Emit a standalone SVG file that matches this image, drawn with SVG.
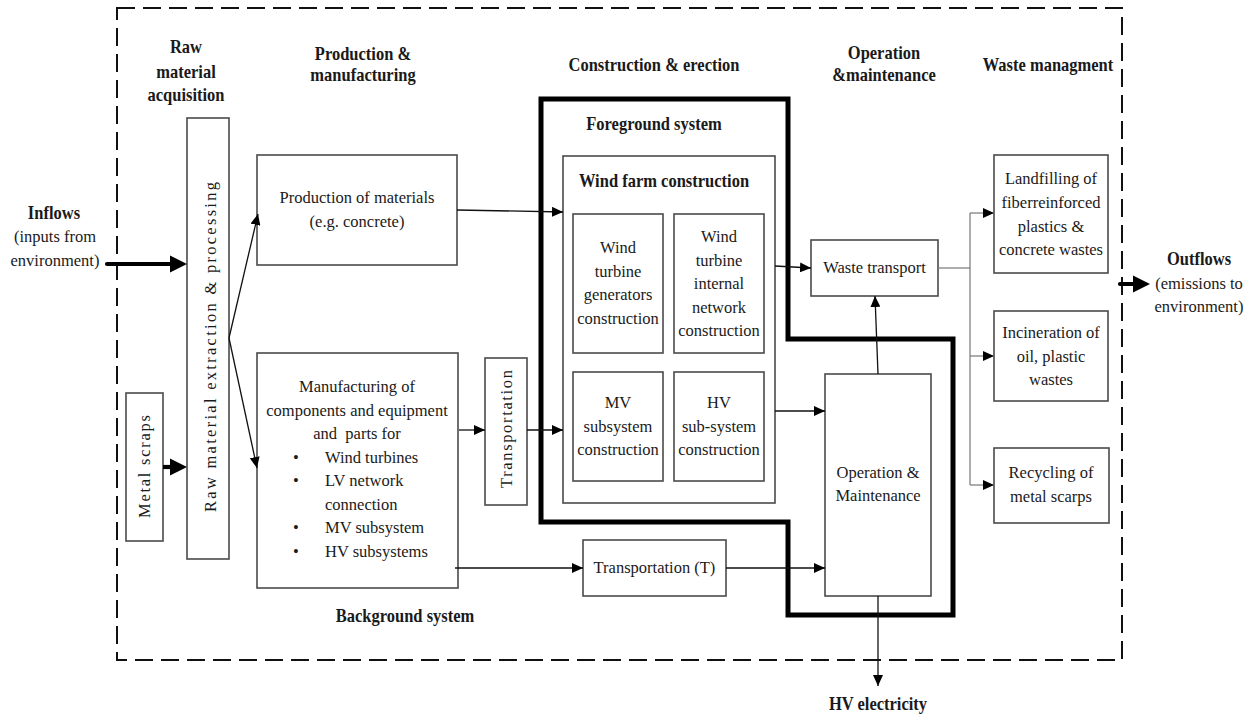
<svg xmlns="http://www.w3.org/2000/svg" width="1256" height="717" viewBox="0 0 1256 717">
<style>
.t{font-family:"Liberation Serif","Times New Roman",serif;font-size:16.5px;fill:#1a1a1a;text-anchor:middle}
.h{font-family:"Liberation Serif","Times New Roman",serif;font-size:16.5px;font-weight:bold;fill:#1a1a1a;text-anchor:middle}
.l{text-anchor:start}
.box{fill:#fff;stroke:#4a4a4a;stroke-width:1.6}
.c{fill:none;stroke:#111;stroke-width:1.3}
.cg{fill:none;stroke:#777;stroke-width:1.2}
.thick{fill:none;stroke:#000;stroke-width:4.2}
</style>
<defs>
<marker id="a" markerUnits="userSpaceOnUse" markerWidth="12" markerHeight="10" viewBox="0 0 12 10" refX="11" refY="5" orient="auto">
<path d="M0,0 L11,5 L0,10 Z" fill="#000"/>
</marker>
<marker id="b" markerUnits="userSpaceOnUse" markerWidth="18" markerHeight="18" viewBox="0 -9 18 18" refX="0" refY="0" orient="auto">
<path d="M0,-8.5 L17,0 L0,8.5 Z" fill="#000"/>
</marker>
</defs>
<rect width="1256" height="717" fill="#fff"/>

<g id="boundary">
<rect x="117" y="8" width="1005" height="652" fill="none" stroke="#111" stroke-width="2" stroke-dasharray="18 8"/>
</g>

<g id="headings">
<text class="h" transform="translate(186,53) scale(1,1.2)">Raw</text>
<text class="h" transform="translate(186,78) scale(1,1.2)">material</text>
<text class="h" transform="translate(186,101) scale(1,1.2)">acquisition</text>
<text class="h" transform="translate(363,60) scale(1,1.2)">Production &amp;</text>
<text class="h" transform="translate(363,81) scale(1,1.2)">manufacturing</text>
<text class="h" transform="translate(654,71) scale(1,1.2)">Construction &amp; erection</text>
<text class="h" transform="translate(884,59) scale(1,1.2)">Operation</text>
<text class="h" transform="translate(884,81) scale(1,1.2)">&amp;maintenance</text>
<text class="h" transform="translate(1048,71) scale(1,1.2)">Waste managment</text>
</g>

<g id="foreground">
<path d="M541,99 L788,99 L788,339 L953,339 L953,615 L788,615 L788,522 L541,522 Z" fill="none" stroke="#000" stroke-width="5"/>
<text class="h" transform="translate(654,130) scale(1,1.2)">Foreground system</text>
</g>

<g id="inflows">
<text class="h" transform="translate(54,219) scale(1,1.2)">Inflows</text>
<text class="t" x="55" y="242">(inputs from</text>
<text class="t" x="55" y="266">environment)</text>
</g>

<g id="outflows">
<text class="h" transform="translate(1199,265) scale(1,1.2)">Outflows</text>
<text class="t" x="1199" y="289">(emissions to</text>
<text class="t" x="1199" y="312">environment)</text>
</g>

<g id="raw-extraction">
<rect class="box" x="187" y="118" width="42" height="441"/>
<text class="t" transform="translate(216,347) rotate(-90)" textLength="330" lengthAdjust="spacing">Raw material extraction &amp; processing</text>
</g>

<g id="metal-scraps">
<rect class="box" x="126" y="393" width="37" height="148"/>
<text class="t" transform="translate(150,466.5) rotate(-90)" textLength="103" lengthAdjust="spacing">Metal scraps</text>
</g>

<g id="production-materials">
<rect class="box" x="257" y="155" width="200" height="110"/>
<text class="t" x="357" y="203">Production of materials</text>
<text class="t" x="357" y="227">(e.g. concrete)</text>
</g>

<g id="manufacturing">
<rect class="box" x="257" y="353" width="201" height="235"/>
<text class="t" x="357" y="392">Manufacturing of</text>
<text class="t" x="357" y="415.5">components and equipment</text>
<text class="t" x="357" y="439" xml:space="preserve">and  parts for</text>
<text class="t" x="296" y="462.5">•</text>
<text class="t l" x="325" y="462.5">Wind turbines</text>
<text class="t" x="296" y="486">•</text>
<text class="t l" x="325" y="486">LV network</text>
<text class="t l" x="325" y="509.5">connection</text>
<text class="t" x="296" y="533">•</text>
<text class="t l" x="325" y="533">MV subsystem</text>
<text class="t" x="296" y="556.5">•</text>
<text class="t l" x="325" y="556.5">HV subsystems</text>
</g>

<g id="background-label">
<text class="h" transform="translate(405,622) scale(1,1.2)">Background system</text>
</g>

<g id="transportation">
<rect class="box" x="485" y="358" width="42" height="147"/>
<text class="t" transform="translate(512,429) rotate(-90)" textLength="118" lengthAdjust="spacing">Transportation</text>
</g>

<g id="wind-farm">
<rect class="box" x="563" y="156" width="212" height="347"/>
<text class="h" transform="translate(664,187) scale(1,1.2)">Wind farm construction</text>
</g>

<g id="wtg">
<rect class="box" x="573" y="214" width="90" height="139"/>
<text class="t" x="618" y="253">Wind</text>
<text class="t" x="618" y="276.5">turbine</text>
<text class="t" x="618" y="300">generators</text>
<text class="t" x="618" y="323.5">construction</text>
</g>

<g id="wti">
<rect class="box" x="674" y="214" width="90" height="139"/>
<text class="t" x="719" y="242">Wind</text>
<text class="t" x="719" y="265.5">turbine</text>
<text class="t" x="719" y="289">internal</text>
<text class="t" x="719" y="312.5">network</text>
<text class="t" x="719" y="336">construction</text>
</g>

<g id="mv">
<rect class="box" x="573" y="372" width="90" height="109"/>
<text class="t" x="618" y="408">MV</text>
<text class="t" x="618" y="431.5">subsystem</text>
<text class="t" x="618" y="455">construction</text>
</g>

<g id="hv">
<rect class="box" x="674" y="372" width="90" height="109"/>
<text class="t" x="719" y="408">HV</text>
<text class="t" x="719" y="431.5">sub-system</text>
<text class="t" x="719" y="455">construction</text>
</g>

<g id="transport-t">
<rect class="box" x="583" y="540" width="143" height="56"/>
<text class="t" x="654.5" y="573">Transportation (T)</text>
</g>

<g id="waste-transport">
<rect class="box" x="811" y="240" width="127" height="56"/>
<text class="t" x="874.5" y="273">Waste transport</text>
</g>

<g id="om">
<rect class="box" x="825" y="374" width="106" height="222"/>
<text class="t" x="878" y="478">Operation &amp;</text>
<text class="t" x="878" y="501">Maintenance</text>
</g>

<g id="hv-electricity">
<text class="h" transform="translate(878,710) scale(1,1.2)">HV electricity</text>
</g>

<g id="landfilling">
<rect class="box" x="994" y="155" width="114" height="118"/>
<text class="t" x="1051" y="184">Landfilling of</text>
<text class="t" x="1051" y="208">fiberreinforced</text>
<text class="t" x="1051" y="232">plastics &amp;</text>
<text class="t" x="1051" y="255">concrete wastes</text>
</g>

<g id="incineration">
<rect class="box" x="994" y="311" width="114" height="90"/>
<text class="t" x="1051" y="338">Incineration of</text>
<text class="t" x="1051" y="362">oil, plastic</text>
<text class="t" x="1051" y="385">wastes</text>
</g>

<g id="recycling">
<rect class="box" x="994" y="448" width="115" height="75"/>
<text class="t" x="1051" y="478">Recycling of</text>
<text class="t" x="1051" y="502">metal scarps</text>
</g>

<g id="connectors">
<path class="thick" d="M107,264 L170,264" stroke-linecap="round" marker-end="url(#b)"/>
<path class="thick" d="M163,467 L170,467" marker-end="url(#b)"/>
<path class="thick" d="M1120,284 L1133,284" stroke-linecap="round" marker-end="url(#b)"/>
<path class="c" d="M229,338 L258,214" marker-end="url(#a)"/>
<path class="c" d="M229,338 L257,468" marker-end="url(#a)"/>
<path class="c" d="M457,210 L563,212" marker-end="url(#a)"/>
<path class="c" d="M459,430 L485,430" marker-end="url(#a)"/>
<path class="c" d="M527,430 L563,430" marker-end="url(#a)"/>
<path class="c" d="M775,266 L811,268" marker-end="url(#a)"/>
<path class="c" d="M775,411 L825,411" marker-end="url(#a)"/>
<path class="c" d="M878,374 L875,296" marker-end="url(#a)"/>
<path class="c" d="M455,568 L583,568" marker-end="url(#a)"/>
<path class="c" d="M726,568 L825,568" marker-end="url(#a)"/>
<path class="c" d="M878,596 L878,686" marker-end="url(#a)"/>
<path class="cg" d="M938,268 L970,268"/>
<path class="cg" d="M970,213 L970,485"/>
<path class="cg" d="M970,213 L994,213" marker-end="url(#a)"/>
<path class="cg" d="M970,356 L994,356" marker-end="url(#a)"/>
<path class="cg" d="M970,485 L994,485" marker-end="url(#a)"/>
</g>
</svg>
